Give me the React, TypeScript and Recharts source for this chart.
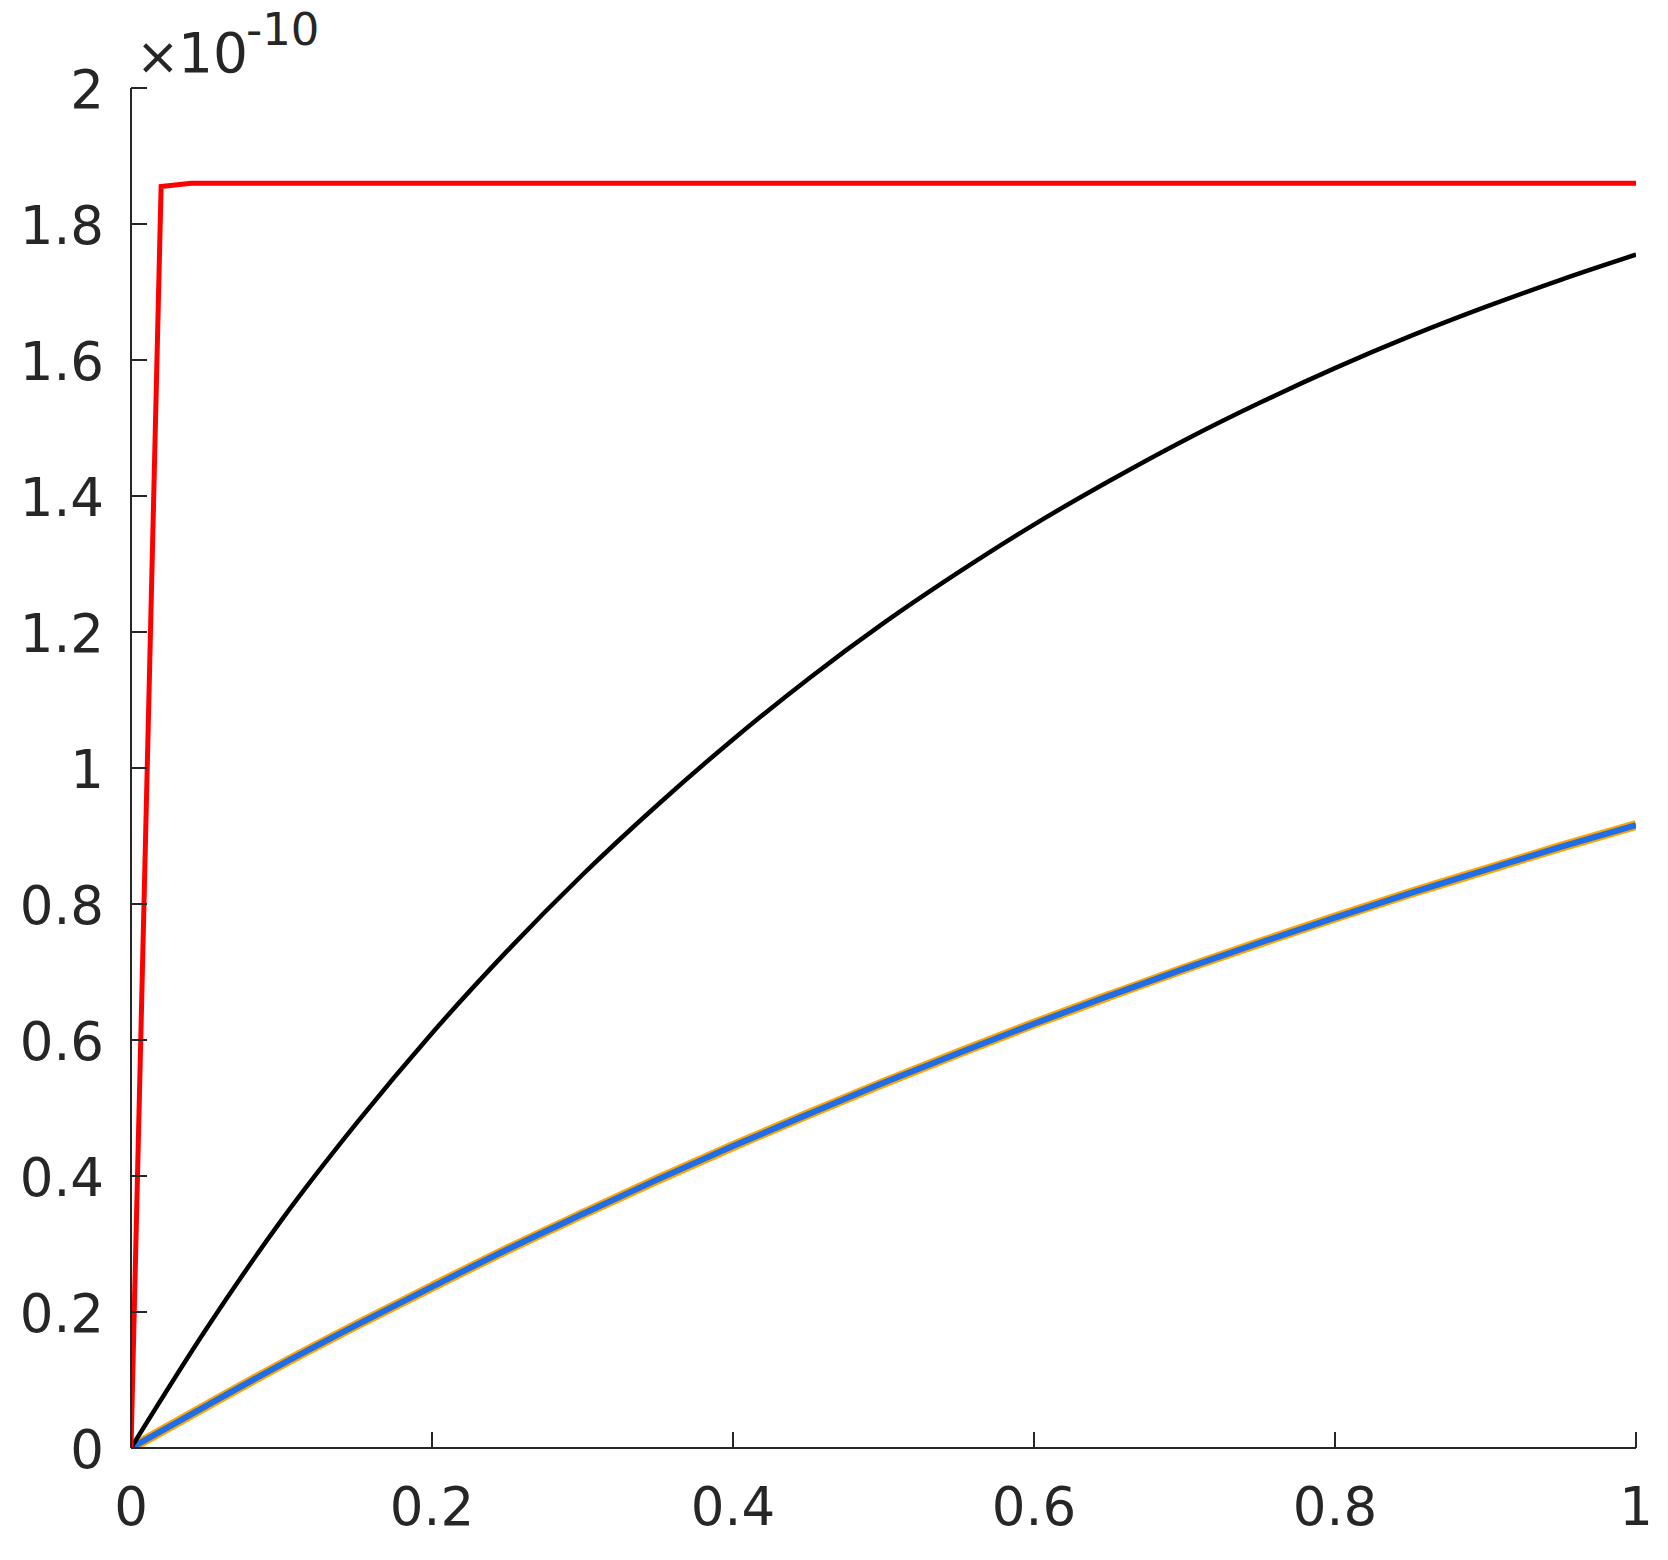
import React from 'react';
import { LineChart, Line, XAxis, YAxis } from 'recharts';

const xTicks = [0, 0.2, 0.4, 0.6, 0.8, 1];
const yTicks = [0, 0.2, 0.4, 0.6, 0.8, 1, 1.2, 1.4, 1.6, 1.8, 2];

// red: jumps almost straight up, then stays flat
const redX = [0, 0.02, 0.04, 1];
const redVals = [0, 1.855, 1.86, 1.86];

const curveX = [0, 0.05, 0.1, 0.15, 0.2, 0.25, 0.3, 0.35, 0.4, 0.45, 0.5, 0.55, 0.6, 0.65, 0.7, 0.75, 0.8, 0.85, 0.9, 0.95, 1];
const blackVals = [0, 0.175, 0.335, 0.478, 0.61, 0.731, 0.843, 0.946, 1.042, 1.131, 1.213, 1.288, 1.358, 1.422, 1.482, 1.537, 1.588, 1.635, 1.678, 1.718, 1.755];
const blueVals = [0, 0.062, 0.123, 0.181, 0.237, 0.292, 0.344, 0.395, 0.444, 0.491, 0.537, 0.581, 0.624, 0.665, 0.705, 0.743, 0.78, 0.816, 0.85, 0.884, 0.916];
const orangeVals = [0, 0.062, 0.123, 0.181, 0.237, 0.292, 0.344, 0.395, 0.444, 0.491, 0.537, 0.581, 0.624, 0.665, 0.705, 0.743, 0.78, 0.816, 0.85, 0.884, 0.916];

const redData = redX.map((x, i) => ({ x, v: redVals[i] }));
const curveData = curveX.map((x, i) => ({ x, black: blackVals[i], blue: blueVals[i], orange: orangeVals[i] }));

const axisColor = '#262626';
const font = 'DejaVu Sans, sans-serif';

const XTick = (props: any) => {
  const { x, y, payload } = props;
  return (
    <g>
      <line x1={x} y1={y} x2={x} y2={y - 16} stroke={axisColor} strokeWidth={2} />
      <text x={x} y={y + 77} textAnchor="middle" fontSize={53} fontFamily={font} fill={axisColor}>
        {String(payload.value)}
      </text>
    </g>
  );
};

const YTick = (props: any) => {
  const { x, y, payload } = props;
  return (
    <g>
      <line x1={x} y1={y} x2={x + 16} y2={y} stroke={axisColor} strokeWidth={2} />
      <text x={x - 27} y={y + 20} textAnchor="end" fontSize={53} fontFamily={font} fill={axisColor}>
        {String(payload.value)}
      </text>
    </g>
  );
};

export default function App() {
  return (
    <div style={{ position: 'absolute', left: 0, top: 0, width: 1668, height: 1560, background: '#fff' }}>
      <LineChart width={1668} height={1560} margin={{ top: 88, right: 32, left: 0, bottom: 0 }}>
        <XAxis
          type="number"
          dataKey="x"
          domain={[0, 1]}
          ticks={xTicks}
          height={112}
          tickSize={0}
          tickMargin={0}
          tickLine={false}
          tick={<XTick />}
          stroke={axisColor}
          strokeWidth={2}
          allowDataOverflow
        />
        <YAxis
          type="number"
          domain={[0, 2]}
          ticks={yTicks}
          width={131}
          tickSize={0}
          tickMargin={0}
          tickLine={false}
          tick={<YTick />}
          stroke={axisColor}
          strokeWidth={2}
          allowDataOverflow
        />
        <Line data={curveData} dataKey="orange" type="monotone" stroke="#ffa500" strokeWidth={10} dot={false} isAnimationActive={false} />
        <Line data={curveData} dataKey="blue" type="monotone" stroke="#1f6ee8" strokeWidth={6} dot={false} isAnimationActive={false} />
        <Line data={curveData} dataKey="black" type="monotone" stroke="#000000" strokeWidth={4.5} dot={false} isAnimationActive={false} />
        <Line data={redData} dataKey="v" type="linear" stroke="#ff0000" strokeWidth={5} dot={false} isAnimationActive={false} />
      </LineChart>
      <svg width={400} height={90} style={{ position: 'absolute', left: 0, top: 0 }}>
        <text x={136} y={74} fontSize={52} fontFamily={font} fill={axisColor}>×</text>
        <text x={178} y={72} fontSize={55} fontFamily={font} fill={axisColor}>10</text>
        <text x={246} y={45} fontSize={45} fontFamily={font} fill={axisColor}>-10</text>
      </svg>
    </div>
  );
}
